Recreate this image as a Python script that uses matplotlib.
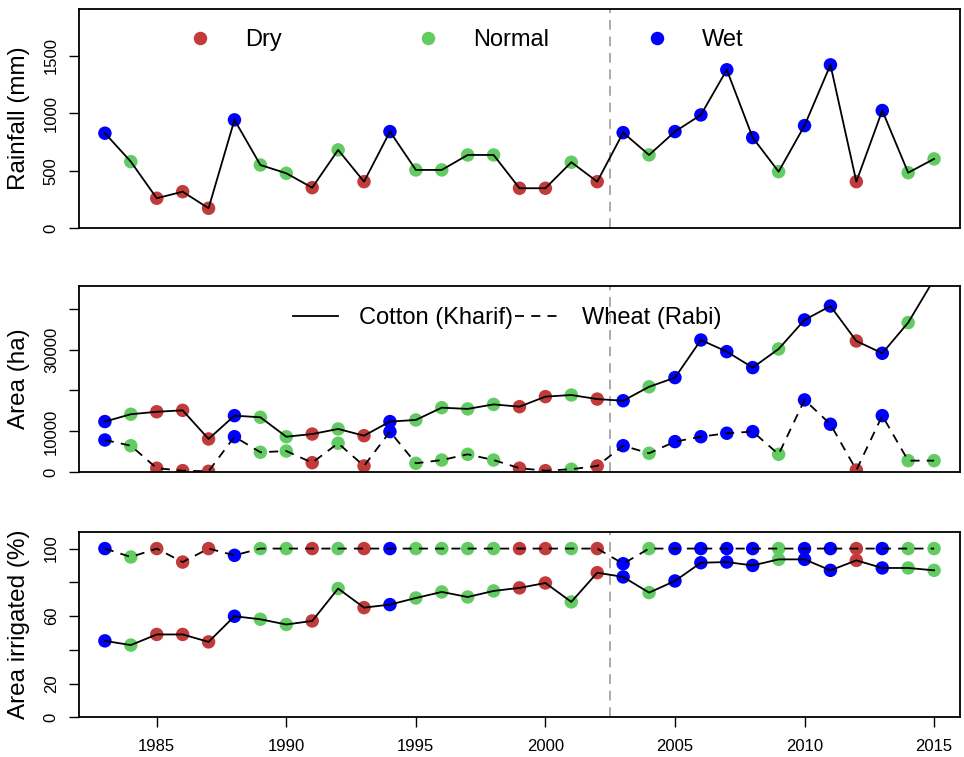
import matplotlib
matplotlib.use("Agg")
import matplotlib.pyplot as plt
from matplotlib.lines import Line2D
from matplotlib.legend import Legend

plt.rcParams['font.family'] = ['Liberation Sans', 'DejaVu Sans']

years = list(range(1983, 2016))
rain_class = ['Wet', 'Normal', 'Dry', 'Dry', 'Dry', 'Wet', 'Normal', 'Normal', 'Dry', 'Normal',
              'Dry', 'Wet', 'Normal', 'Normal', 'Normal', 'Normal', 'Dry', 'Dry', 'Normal', 'Dry',
              'Wet', 'Normal', 'Wet', 'Wet', 'Wet', 'Wet', 'Normal', 'Wet', 'Wet', 'Dry',
              'Wet', 'Normal', 'Normal']
rainfall = [826, 579, 261, 318, 174, 942, 550, 478, 353, 681, 405, 840, 507, 507, 637, 637, 348,
            348, 574, 405, 831, 637, 840, 985, 1377, 788, 492, 892, 1420, 405, 1023, 483, 603]
cotton_area = [12400, 14200, 14800, 15150, 8150, 13850, 13450, 8700, 9350, 10600, 8950, 12400,
               12800, 15800, 15500, 16600, 16050, 18500, 18900, 17900, 17500, 20900, 23150,
               32350, 29500, 25600, 30150, 37250, 40650, 32100, 29100, 36600, 47200]
wheat_area = [7900, 6500, 1000, 400, 250, 8700, 4900, 5200, 2350, 7100, 1550, 9950, 2200, 3000,
              4400, 3000, 1000, 400, 750, 1550, 6500, 4650, 7500, 8700, 9550, 9950, 4400, 17700,
              11750, 550, 13850, 2850, 2850]
cotton_irr = [45.3, 42.8, 49.1, 49.1, 44.7, 59.9, 58.1, 55.0, 57.1, 76.3, 65.0, 66.8, 70.7, 74.3,
              71.3, 74.9, 76.7, 79.6, 68.4, 85.7, 83.2, 73.9, 80.8, 91.6, 92.0, 90.0, 93.6, 93.6,
              87.1, 93.0, 88.5, 88.5, 87.1]
wheat_irr = [100, 95, 100, 92, 100, 96] + [100] * 14 + [91] + [100] * 12

class_names = ['Dry', 'Normal', 'Wet']
class_colors = {'Dry': '#C23B3B', 'Normal': '#62CC62', 'Wet': '#0000FF'}
split_year = 2002.5

pt_colors = [class_colors[c] for c in rain_class]
MS = 94
LW = 1.3

fig = plt.figure(figsize=(9.64, 7.57), dpi=100)
W, H = 964, 757


def add_panel(top, bottom):
    ax = fig.add_axes([79 / W, 1 - bottom / H, 881 / W, (bottom - top) / H])
    ax.set_xlim(1982, 2016)
    for s in ax.spines.values():
        s.set_linewidth(1.3)
    ax.tick_params(axis='y', direction='out', length=7.5, width=1, pad=7,
                   labelsize=12, labelrotation=90)
    for lab in ax.get_yticklabels():
        lab.set_va('center')
    ax.axvline(split_year, color='#AAAAAA', lw=1.4, dashes=(5, 3.5), zorder=1)
    return ax


# rainfall panel
ax1 = add_panel(9, 228.3)
ax1.scatter(years, rainfall, s=MS, c=pt_colors, zorder=2, linewidths=0)
ax1.plot(years, rainfall, color='black', lw=LW, zorder=3)
ax1.set_ylim(0, 1905)
ax1.set_yticks([0, 500, 1000, 1500])
ax1.set_xticks([])
ax1.set_ylabel('Rainfall (mm)', fontsize=17.5)
ax1.yaxis.set_label_coords(-0.056, 0.5)
# one legend per class so the columns are evenly spaced like in base R
for name, xf in zip(class_names, [0.124, 0.3827, 0.6423]):
    h = Line2D([], [], ls='none', marker='o', ms=9.7, mec='none', color=class_colors[name])
    lg = Legend(ax1, [h], [name], loc='center left', bbox_to_anchor=(xf, 0.857),
                frameon=False, fontsize=17, handlelength=1.0, handletextpad=1.4,
                borderpad=0, borderaxespad=0)
    ax1.add_artist(lg)

# area panel
ax2 = add_panel(286, 472.3)
ax2.scatter(years, cotton_area, s=MS, c=pt_colors, zorder=2, linewidths=0)
ax2.scatter(years, wheat_area, s=MS, c=pt_colors, zorder=2, linewidths=0)
ax2.plot(years, cotton_area, color='black', lw=LW, zorder=3, label='Cotton (Kharif)')
ax2.plot(years, wheat_area, color='black', lw=LW, dashes=(5, 4), zorder=3, label='Wheat (Rabi)')
ax2.set_ylim(0, 45550)
ax2.set_yticks([0, 10000, 20000, 30000, 40000])
ax2.set_yticklabels(['0', '10000', '', '30000', ''])
ax2.set_xticks([])
ax2.set_ylabel('Area (ha)', fontsize=17.5)
ax2.yaxis.set_label_coords(-0.056, 0.5)
ax2.legend(loc='center left', bbox_to_anchor=(0.2429, 0.828), ncol=2, frameon=False,
           fontsize=17, handlelength=1.9, handletextpad=0.9, columnspacing=0.1,
           borderpad=0, borderaxespad=0)

# irrigated panel
ax3 = add_panel(531.7, 717.3)
ax3.scatter(years, wheat_irr, s=MS, c=pt_colors, zorder=2, linewidths=0)
ax3.scatter(years, cotton_irr, s=MS, c=pt_colors, zorder=2, linewidths=0)
ax3.plot(years, cotton_irr, color='black', lw=LW, zorder=3)
ax3.plot(years, wheat_irr, color='black', lw=LW, dashes=(5, 4), zorder=3)
ax3.set_ylim(0, 110)
ax3.set_yticks([0, 20, 40, 60, 80, 100])
ax3.set_yticklabels(['0', '20', '', '60', '', '100'])
ax3.set_xticks(range(1985, 2016, 5))
ax3.tick_params(axis='x', direction='out', length=7.5, width=1, pad=8, labelsize=12)
ax3.set_ylabel('Area irrigated (%)', fontsize=17.5)
ax3.yaxis.set_label_coords(-0.056, 0.5)

fig.savefig('out.png', dpi=100)
